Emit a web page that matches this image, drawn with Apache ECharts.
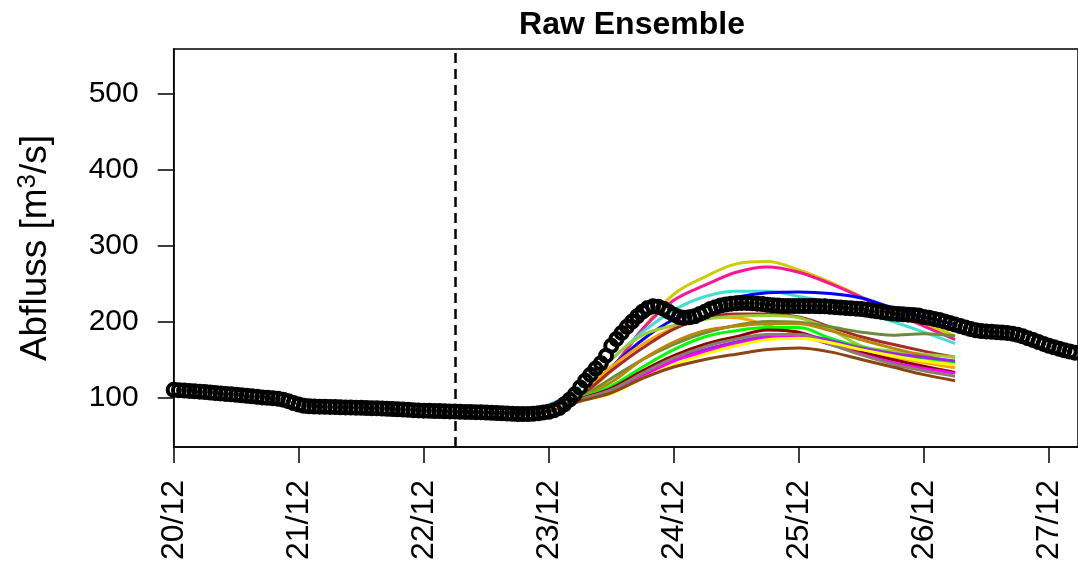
<!DOCTYPE html>
<html>
<head>
<meta charset="utf-8">
<script src="https://cdn.jsdelivr.net/npm/echarts@6/dist/echarts.min.js"></script>
<style>html,body{margin:0;padding:0;background:#fff}#c{width:1078px;height:566px}</style>
</head>
<body>
<div id="c"></div>
<script>
// Hours since 20/12 00:00
var dayLabels = ['20/12','21/12','22/12','23/12','24/12','25/12','26/12','27/12'];
var yTicks = [100, 200, 300, 400, 500];
var forecastStartHour = 54; // 22/12 06:00

// Observed discharge, hourly from 20/12 00:00
var obsValues = [
 110,109.5,109,108.5,108,107.5,107,106.4,105.8,105.2,104.6,104,103.5,102.8,102.1,101.4,100.7,100,99.5,99,98.3,97,95,92.5,
 90.5,89,88.3,88,87.8,87.6,87.4,87.2,87,86.8,86.6,86.4,86.2,86,85.8,85.6,85.3,85,84.7,84.4,84,83.6,83.2,82.8,
 82.5,82.3,82.1,81.9,81.7,81.5,81.3,81.1,80.9,80.7,80.5,80.3,80,79.7,79.4,79,78.6,78.3,78.1,78,78,78.3,79,80.2,
 81,83,86,91,97,104,113,122,130,138,145,155,168,177,185,193,200,207,213,218,220,219.5,217,213,
 209,206,205,205.5,207,210,213,216.5,219,221,222.5,223.5,224,224.5,224.5,224,223.5,223,222,221.5,221,220.5,220.5,220.5,
 220.5,220.5,220.5,220.5,220,220,219.5,219,218.5,218,217.5,217,216.5,215.5,214.5,213.5,212.5,211.5,210.5,210,209.5,209,208.5,208,
 206,205,203.5,202,200,198,196,194,192,190,188.5,187.5,187,186.5,186,185.5,185,184,182.5,180.5,178,175.5,173,170.5,168,166,164,162,160.5,159
];

// Ensemble forecast, 6-hourly from 22/12 06:00
var ensHours = [54,60,66,72,78,84,90,96,102,108,114,120,126,132,138,144,150];
var ensYellow3      = [81,80,80,85,102,135,190,236,259,276,279,268,252,233,215,198,181];
var ensDeeppink     = [81,80,80,86,103,138,190,228,248,265,272,265,250,232,212,194,176];
var ensTurquoise    = [81,80,80,90,113,150,186,215,233,240,240,233,225,213,200,186,171];
var ensBlue         = [81,80,80,84,102,140,176,203,220,232,238,239,237,231,218,206,196];
var ensOrange       = [81,80,80,85,105,140,170,192,206,205,195,183,172,163,154,146,139];
var ensBrown        = [81,80,80,84,102,135,165,190,205,210,210,206,193,180,170,161,153];
var ensYellowgreen  = [81,80,80,85,104,150,182,195,203,207,208,205,190,168,161,157,153];
var ensOlive        = [81,80,80,84,100,125,150,170,185,195,200,199,193,186,182,184,181];
var ensGoldenrod    = [81,80,80,84,100,120,150,173,188,194,197,197,188,176,165,155,146];
var ensGreen        = [81,80,80,84,99,115,140,163,180,188,192,192,178,166,158,151,146];
var ensDarkred      = [81,80,80,83,98,112,135,155,170,180,189,186,172,160,150,141,133];
var ensPurple       = [81,80,80,83,97,110,130,150,163,173,181,183,175,165,158,153,148];
var ensMagenta      = [81,80,80,83,96,108,128,148,160,170,178,180,170,157,146,138,132];
var ensGray         = [81,80,80,83,97,110,132,152,167,177,183,183,170,156,144,135,128];
var ensYellow       = [81,80,80,83,95,105,125,143,157,168,176,178,172,163,155,148,143];
var ensSaddlebrown  = [81,80,80,82,95,106,125,140,150,157,163,165,160,150,140,130,122];

var members = [
  {v: ensYellow3, c: '#CDCD00'}, {v: ensDeeppink, c: '#FF1493'}, {v: ensTurquoise, c: '#40E0D0'},
  {v: ensBlue, c: '#0000FF'}, {v: ensOrange, c: '#FFA500'}, {v: ensBrown, c: '#A52A2A'},
  {v: ensYellowgreen, c: '#9ACD32'}, {v: ensOlive, c: '#6E8B3D'}, {v: ensGoldenrod, c: '#B8860B'},
  {v: ensGreen, c: '#00FF00'}, {v: ensDarkred, c: '#8B0000'}, {v: ensPurple, c: '#A020F0'},
  {v: ensMagenta, c: '#FF00FF'}, {v: ensGray, c: '#8B7D6B'}, {v: ensYellow, c: '#FFFF00'},
  {v: ensSaddlebrown, c: '#8B4513'}
];

var series = members.map(function (m) {
  return {
    type: 'line', smooth: 0.35, showSymbol: false, silent: true,
    lineStyle: {color: m.c, width: 3},
    data: ensHours.map(function (h, i) { return [h, m.v[i]]; }),
    z: 2
  };
});
series.push({
  type: 'scatter', symbol: 'circle', symbolSize: 12, silent: true,
  itemStyle: {color: 'rgba(0,0,0,0)', borderColor: '#000', borderWidth: 4, opacity: 1},
  data: obsValues.map(function (v, i) { return [i, v]; }),
  z: 5,
  markLine: {
    silent: true, symbol: 'none', label: {show: false},
    lineStyle: {color: '#000', width: 2.5, type: [10, 6]},
    data: [{xAxis: forecastStartHour}]
  }
});

var chart = echarts.init(document.getElementById('c'), null, {renderer: 'canvas'});
chart.setOption({
  animation: false,
  backgroundColor: '#fff',
  title: {
    text: 'Raw Ensemble', left: 627, top: 4, textAlign: 'center',
    textStyle: {fontFamily: 'Liberation Sans', fontWeight: 'bold', fontSize: 32, color: '#000'}
  },
  grid: {left: 173.7, right: -3, top: 49, bottom: 119, show: true, borderColor: '#000', borderWidth: 1.5, backgroundColor: 'transparent'},
  xAxis: {
    type: 'value', min: 0, max: 173.6,
    splitLine: {show: false},
    axisLine: {show: true, lineStyle: {color: '#000', width: 1.5}},
    axisTick: {show: true, length: 16, lineStyle: {color: '#000', width: 1.5},
      customValues: dayLabels.map(function (d, i) { return i * 24; })},
    axisLabel: {
      rotate: 90, margin: 33, color: '#000', fontFamily: 'Liberation Sans', fontSize: 32,
      customValues: dayLabels.map(function (d, i) { return i * 24; }),
      formatter: function (v) { return dayLabels[Math.round(v / 24)] || ''; }
    }
  },
  yAxis: {
    type: 'value', min: 34.6, max: 559.3,
    name: 'Abfluss [m{sup|3}/s]', nameLocation: 'middle', nameGap: 117,
    nameTextStyle: {
      fontFamily: 'Liberation Sans', fontSize: 37, color: '#000',
      rich: {sup: {fontFamily: 'Liberation Sans', fontSize: 26, color: '#000', verticalAlign: 'top', padding: [0, 0, 16, 0]}}
    },
    splitLine: {show: false},
    axisLine: {show: true, lineStyle: {color: '#000', width: 1.5}},
    axisTick: {show: true, length: 16, lineStyle: {color: '#000', width: 1.5}, customValues: yTicks},
    axisLabel: {margin: 35, color: '#000', fontFamily: 'Liberation Sans', fontSize: 30, customValues: yTicks}
  },
  series: series
});
</script>
</body>
</html>
